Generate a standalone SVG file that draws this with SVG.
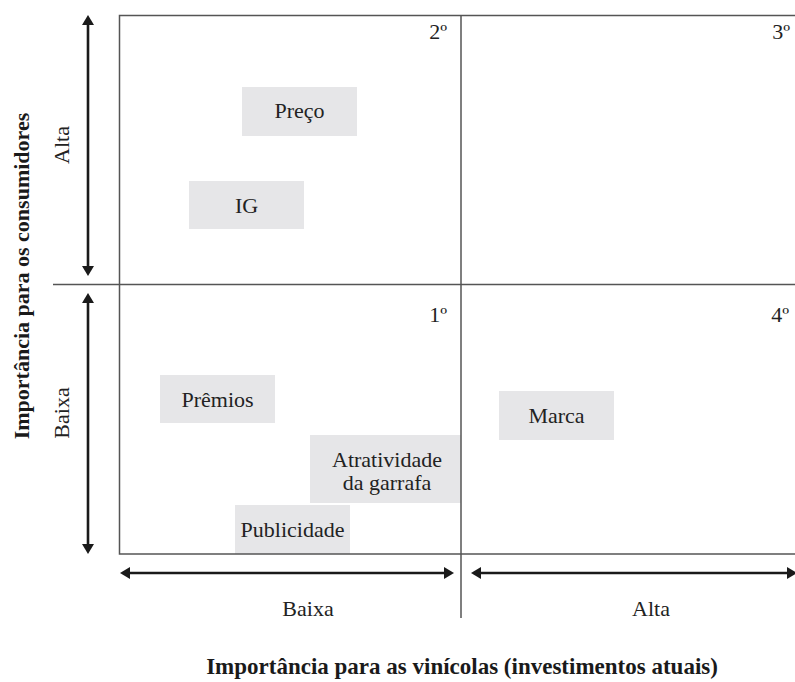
<svg xmlns="http://www.w3.org/2000/svg" width="795" height="682" viewBox="0 0 795 682">
  <style>
    .box { fill: #e6e6e8; stroke: none; }
    .lbl { font-family: "Liberation Serif", "Times New Roman", serif; font-size: 22px; fill: #222; text-anchor: middle; }
    .ord { font-family: "Liberation Serif", "Times New Roman", serif; font-size: 22px; fill: #222; text-anchor: end; }
    .ttl { font-family: "Liberation Serif", "Times New Roman", serif; font-size: 23px; font-weight: bold; fill: #1a1a1a; text-anchor: middle; }
    .vttl { font-family: "Liberation Serif", "Times New Roman", serif; font-size: 22px; font-weight: bold; fill: #1a1a1a; text-anchor: middle; }
    .frame { stroke: #555; stroke-width: 1.5; fill: none; }
    .arrow { stroke: #1a1a1a; stroke-width: 2.6; fill: none; marker-start: url(#head); marker-end: url(#head); }
  </style>
  <defs>
    <marker id="head" markerUnits="userSpaceOnUse" markerWidth="10" markerHeight="12" viewBox="0 0 10 12" refX="5" refY="6" orient="auto-start-reverse">
      <path d="M0,0 L10,6 L0,12 z" fill="#1a1a1a"/>
    </marker>
  </defs>

  <g id="node-preco">
    <rect class="box" x="242" y="87" width="115" height="49"/>
    <text class="lbl" x="299.5" y="118">Preço</text>
  </g>
  <g id="node-ig">
    <rect class="box" x="189" y="181" width="115" height="48"/>
    <text class="lbl" x="246.5" y="212.5">IG</text>
  </g>
  <g id="node-premios">
    <rect class="box" x="160" y="375" width="115" height="48"/>
    <text class="lbl" x="217.5" y="406.5">Prêmios</text>
  </g>
  <g id="node-marca">
    <rect class="box" x="499" y="391" width="115" height="49"/>
    <text class="lbl" x="556.5" y="422.5">Marca</text>
  </g>
  <g id="node-atratividade">
    <rect class="box" x="310" y="435" width="151" height="68"/>
    <text class="lbl" x="387" y="467">Atratividade</text>
    <text class="lbl" x="387" y="490">da garrafa</text>
  </g>
  <g id="node-publicidade">
    <rect class="box" x="235" y="505" width="115" height="49"/>
    <text class="lbl" x="292.5" y="537">Publicidade</text>
  </g>

  <g id="frame">
    <path class="frame" d="M795,15.5 H119.5 V554 H795"/>
    <line class="frame" x1="53" y1="284.5" x2="795" y2="284.5"/>
    <line class="frame" x1="461" y1="15" x2="461" y2="618"/>
  </g>

  <g id="quadrant-labels">
    <text class="ord" x="447" y="39">2º</text>
    <text class="ord" x="790" y="39">3º</text>
    <text class="ord" x="447" y="322">1º</text>
    <text class="ord" x="789" y="322">4º</text>
  </g>

  <g id="connectors">
    <line class="arrow" x1="88" y1="20" x2="88" y2="271"/>
    <line class="arrow" x1="88" y1="298" x2="88" y2="549"/>
    <line class="arrow" x1="125" y1="573" x2="449" y2="573"/>
    <line class="arrow" x1="476" y1="573" x2="792" y2="573"/>
  </g>

  <g id="axis-labels">
    <text class="lbl" transform="translate(69,145) rotate(-90)" x="0" y="0">Alta</text>
    <text class="lbl" transform="translate(69,413) rotate(-90)" x="0" y="0">Baixa</text>
    <text class="lbl" x="308" y="616">Baixa</text>
    <text class="lbl" x="651" y="616">Alta</text>
    <text class="vttl" transform="translate(29,276) rotate(-90)" x="0" y="0">Importância para os consumidores</text>
    <text class="ttl" x="462" y="674">Importância para as vinícolas (investimentos atuais)</text>
  </g>
</svg>
